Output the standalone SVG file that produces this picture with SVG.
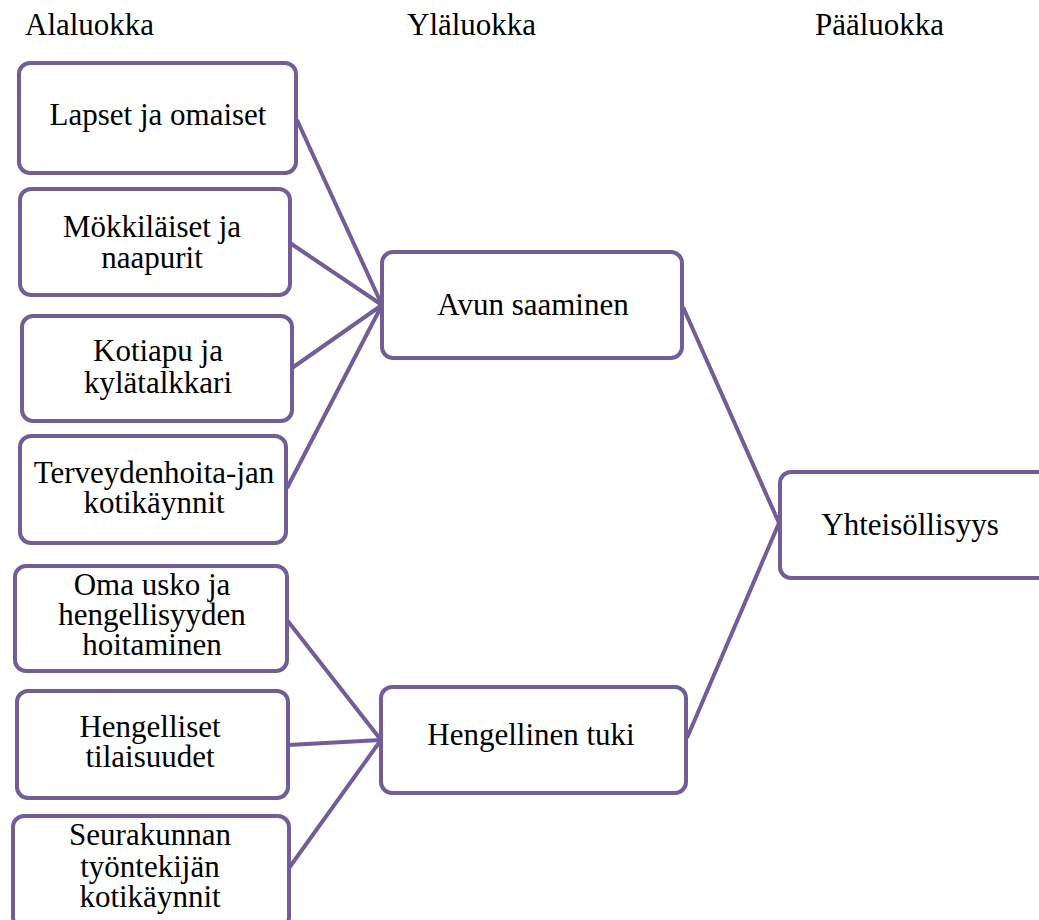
<svg xmlns="http://www.w3.org/2000/svg" width="1039" height="920" viewBox="0 0 1039 920">
<style>
.box{fill:#fff;stroke:#735d98;stroke-width:4}
.lnk{stroke:#735d98;stroke-width:4;fill:none}
text{font-family:"Liberation Serif","Times New Roman",serif;font-size:31px;fill:#000}
.c{text-anchor:middle}
</style>
<rect width="1039" height="920" fill="#fff"/>
<g id="headers">
<text x="25" y="35">Alaluokka</text>
<text x="407" y="35">Yläluokka</text>
<text x="815" y="35">Pääluokka</text>
</g>
<g id="connectors">
<line class="lnk" x1="297" y1="120" x2="382" y2="305"/>
<line class="lnk" x1="290" y1="243" x2="382" y2="305"/>
<line class="lnk" x1="292" y1="368" x2="382" y2="305"/>
<line class="lnk" x1="287" y1="488" x2="382" y2="305"/>
<line class="lnk" x1="287" y1="620" x2="381" y2="740"/>
<line class="lnk" x1="288" y1="745" x2="381" y2="740"/>
<line class="lnk" x1="289" y1="868" x2="381" y2="740"/>
<line class="lnk" x1="683" y1="307" x2="779" y2="523"/>
<line class="lnk" x1="687" y1="738" x2="779" y2="523"/>
</g>
<g id="n1"><rect class="box" x="19" y="63" width="277" height="110" rx="11"/><text class="c" x="158" y="125">Lapset ja omaiset</text></g>
<g id="n2"><rect class="box" x="20" y="189" width="270" height="106" rx="11"/><text class="c" x="152" y="237">Mökkiläiset ja</text><text class="c" x="152" y="268">naapurit</text></g>
<g id="n3"><rect class="box" x="22" y="316" width="270" height="105" rx="11"/><text class="c" x="158" y="361">Kotiapu ja</text><text class="c" x="158" y="393">kylätalkkari</text></g>
<g id="n4"><rect class="box" x="20" y="436" width="266" height="107" rx="11"/><text class="c" x="154" y="483">Terveydenhoita-jan</text><text class="c" x="154" y="513">kotikäynnit</text></g>
<g id="n5"><rect class="box" x="15" y="566" width="272" height="105" rx="11"/><text class="c" x="152" y="595">Oma usko ja</text><text class="c" x="152" y="625">hengellisyyden</text><text class="c" x="152" y="655">hoitaminen</text></g>
<g id="n6"><rect class="box" x="17" y="691" width="271" height="107" rx="11"/><text class="c" x="150" y="737">Hengelliset</text><text class="c" x="150" y="767">tilaisuudet</text></g>
<g id="n7"><rect class="box" x="13" y="816" width="276" height="112" rx="11"/><text class="c" x="150" y="845">Seurakunnan</text><text class="c" x="150" y="877">työntekijän</text><text class="c" x="150" y="907">kotikäynnit</text></g>
<g id="avun"><rect class="box" x="382" y="252" width="300" height="106" rx="11"/><text class="c" x="533" y="315">Avun saaminen</text></g>
<g id="hengellinen"><rect class="box" x="381" y="687" width="305" height="106" rx="11"/><text class="c" x="531" y="745">Hengellinen tuki</text></g>
<g id="yhteisollisyys"><rect class="box" x="780" y="472" width="275" height="106" rx="11"/><text class="c" x="910" y="535">Yhteisöllisyys</text></g>
</svg>
